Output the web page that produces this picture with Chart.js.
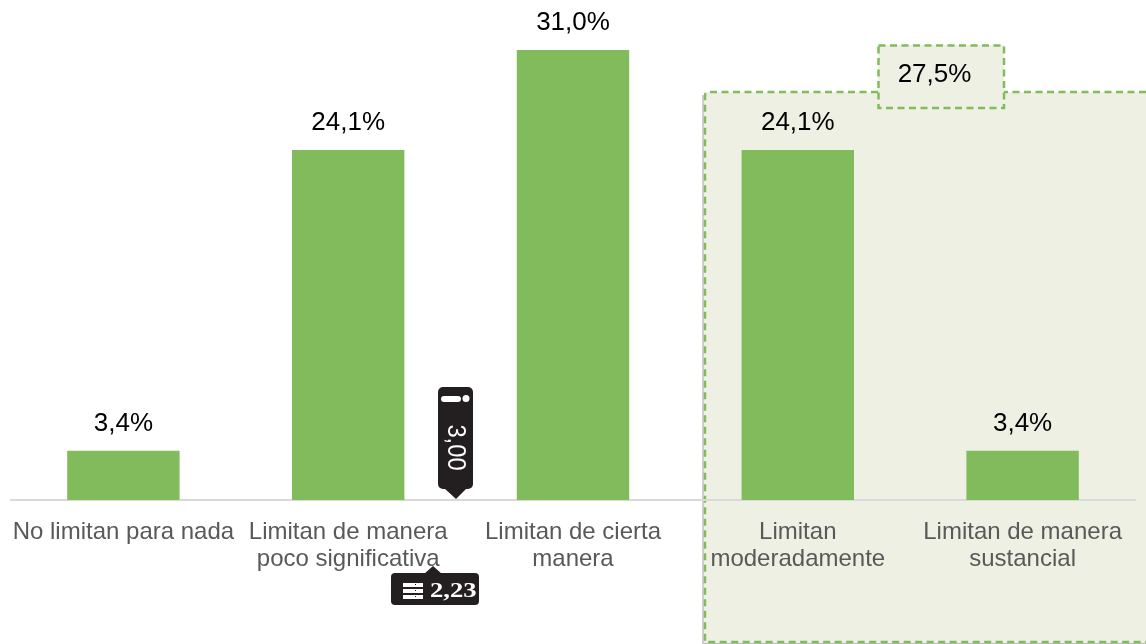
<!DOCTYPE html>
<html><head><meta charset="utf-8">
<style>html,body{margin:0;padding:0;background:#fff}#w{width:1146px;height:644px;position:relative}</style>
<script src="https://cdn.jsdelivr.net/npm/chart.js@4"></script>
</head><body><div id="w"><canvas id="c"></canvas></div>
<script>
const categories = [["No limitan para nada"],["Limitan de manera","poco significativa"],["Limitan de cierta","manera"],["Limitan","moderadamente"],["Limitan de manera","sustancial"]];
const values = [3.4,24.1,31.0,24.1,3.4];
const groupLabel = "27,5%";
const badgeVertical = "3,00";
const badgeHorizontal = "2,23";
const GREEN = "#82BB5C", PANEL = "#EDF0E3", INK = "#000", BADGE = "#231F20";
const fmt = v => v.toFixed(1).replace(".", ",") + "%";

const panelPlugin = { id:"panel", beforeDraw(ch){
  const c = ch.ctx; c.save();
  c.fillStyle = "#cfcfcf"; c.fillRect(702,95,2,549);
  c.fillStyle = PANEL;
  c.fillRect(704,92,442,551);
  c.fillRect(878,45,126,63);
  c.fillStyle = "#bdbdbd"; c.fillRect(704,643,442,1);
  c.strokeStyle = GREEN; c.lineWidth = 2.5; c.setLineDash([7,4.5]);
  c.beginPath(); c.moveTo(1146,92); c.lineTo(1004,92);
  c.moveTo(878,92); c.lineTo(709,92); c.quadraticCurveTo(705,92,705,96); c.lineTo(705,642); c.lineTo(1146,642); c.stroke();
  c.strokeRect(878.5,45.5,125.5,62.5);
  c.restore();
}};
const labelPlugin = { id:"labels", afterDraw(ch){
  const c = ch.ctx, m = ch.getDatasetMeta(0);
  c.save(); c.fillStyle = INK; c.font = "26px 'Liberation Sans'"; c.textAlign = "center"; c.textBaseline = "middle";
  m.data.forEach((b,i)=>c.fillText(fmt(values[i]), b.x, b.y-27));
  c.fillText(groupLabel, 934.5, 75);
  // vertical badge
  c.fillStyle = BADGE;
  c.beginPath(); c.roundRect(438,387,35,102,5); c.fill();
  c.beginPath(); c.moveTo(444,488); c.lineTo(456,499); c.lineTo(467,488); c.closePath(); c.fill();
  c.fillStyle = "#fff";
  c.beginPath(); c.roundRect(441,396,20,6,3); c.fill();
  c.beginPath(); c.arc(466,398.5,3.5,0,Math.PI*2); c.fill();
  c.save(); c.translate(455,447.5); c.rotate(Math.PI/2); c.scale(0.95,1); c.font = "25px 'Liberation Sans'"; c.fillText(badgeVertical,0,0); c.restore();
  // horizontal badge
  c.fillStyle = BADGE;
  c.beginPath(); c.roundRect(391,573,88,32,4); c.fill();
  c.beginPath(); c.moveTo(424,574); c.lineTo(433,566); c.lineTo(442,574); c.closePath(); c.fill();
  c.fillStyle = "#fff";
  [584,590,596].forEach(y=>c.fillRect(403,y-1,20,4));
  c.fillStyle = BADGE; [584,590,596].forEach(y=>c.fillRect(415,y,1,1));
  c.fillStyle = "#fff"; c.font = "bold 21px 'Liberation Serif'"; c.textAlign = "left";
  c.save(); c.translate(430,592); c.scale(1.27,1); c.fillText(badgeHorizontal,0,0); c.restore();
  c.restore();
}};
new Chart(document.getElementById("c"),{
  type:"bar",
  data:{labels:categories,datasets:[{data:values,backgroundColor:GREEN,barPercentage:0.5,categoryPercentage:1}]},
  plugins:[panelPlugin,labelPlugin],
  options:{
    responsive:true,maintainAspectRatio:false,animation:false,
    layout:{padding:{left:11,right:11,top:0,bottom:0}},
    plugins:{legend:{display:false},tooltip:{enabled:false}},
    scales:{
      y:{display:false,min:0,max:34.44},
      x:{
        afterFit(s){s.height=144;},
        grid:{display:false},
        border:{display:true,color:"#D9D9D9",width:2},
        ticks:{color:"#595959",font:{family:"'Liberation Sans'",size:24,lineHeight:1.125},padding:11,maxRotation:0,minRotation:0,autoSkip:false}
      }
    }
  }
});
</script></body></html>
